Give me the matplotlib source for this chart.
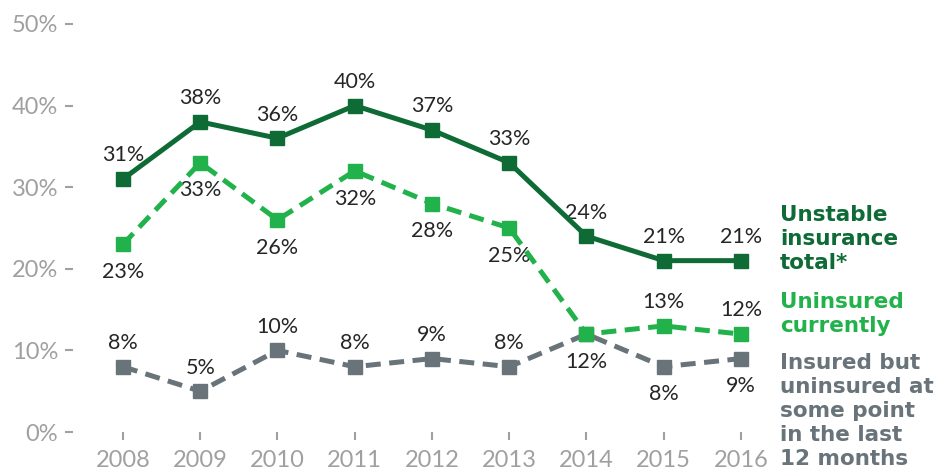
import matplotlib
matplotlib.use('Agg')
import matplotlib.pyplot as plt

years = [2008, 2009, 2010, 2011, 2012, 2013, 2014, 2015, 2016]
unstable = [31, 38, 36, 40, 37, 33, 24, 21, 21]
uninsured = [23, 33, 26, 32, 28, 25, 12, 13, 12]
gap_insured = [8, 5, 10, 8, 9, 8, 12, 8, 9]

# label placement: 1 above, -1 below, 0 none
unstable_pos = [1, 1, 1, 1, 1, 1, 1, 1, 1]
uninsured_pos = [-1, -1, -1, -1, -1, -1, -1, 1, 1]
gap_pos = [1, 1, 1, 1, 1, 1, 0, -1, -1]

y_ticks = [0, 10, 20, 30, 40, 50]

series_names = [
    ['Unstable', 'insurance', 'total*'],
    ['Uninsured', 'currently'],
    ['Insured but', 'uninsured at', 'some point', 'in the last', '12 months'],
]

c_dark = '#0e6b36'
c_light = '#22b24c'
c_gray = '#69737a'
c_axis = '#a0a0a0'
c_text = '#262626'

plt.rcParams['font.family'] = ['Lato', 'DejaVu Sans']

W, H = 949, 474
fig = plt.figure(figsize=(W / 100, H / 100), dpi=100)
ax = fig.add_axes([0.0889, 0.0886, 0.7326, 0.8608])

ax.plot(years, gap_insured, color=c_gray, lw=3.6, dashes=(3, 1.7),
        marker='s', ms=10, clip_on=False, zorder=3)
ax.plot(years, uninsured, color=c_light, lw=3.6, dashes=(3, 1.7),
        marker='s', ms=10, clip_on=False, zorder=4)
ax.plot(years, unstable, color=c_dark, lw=3.6,
        marker='s', ms=10, clip_on=False, zorder=5)

for vals, pos in [(unstable, unstable_pos), (uninsured, uninsured_pos), (gap_insured, gap_pos)]:
    for x, v, p in zip(years, vals, pos):
        if p == 0:
            continue
        off = 17 if p > 0 else -20
        ax.annotate(f'{v}%', (x, v), xytext=(0, off), textcoords='offset points',
                    ha='center', va='center', fontsize=15.5, color=c_text)

ax.set_xlim(2007.5, 2016.5)
ax.set_ylim(0, 50)
ax.set_xticks(years)
ax.set_yticks(y_ticks)
ax.set_yticklabels([f'{t}%' for t in y_ticks])

for s in ['top', 'right', 'bottom', 'left']:
    ax.spines[s].set_color('none')
ax.spines['left'].set_position(('outward', 8))

ax.tick_params(axis='y', length=6, width=1.5, color=c_axis, labelcolor=c_axis,
               labelsize=17, pad=5)
ax.tick_params(axis='x', length=6, width=1.5, color=c_axis, labelcolor=c_axis,
               labelsize=17, pad=7)

# series names on the right, one line each
name_tops = [213, 300, 361]
for lines, col, top in zip(series_names, [c_dark, c_light, c_gray], name_tops):
    for i, line in enumerate(lines):
        py = top + i * 24
        fig.text(780 / W, 1 - py / H, line, color=col, fontsize=15.5,
                 fontweight='bold', family='DejaVu Sans', va='center_baseline', ha='left')

plt.savefig('out.png', dpi=100)
